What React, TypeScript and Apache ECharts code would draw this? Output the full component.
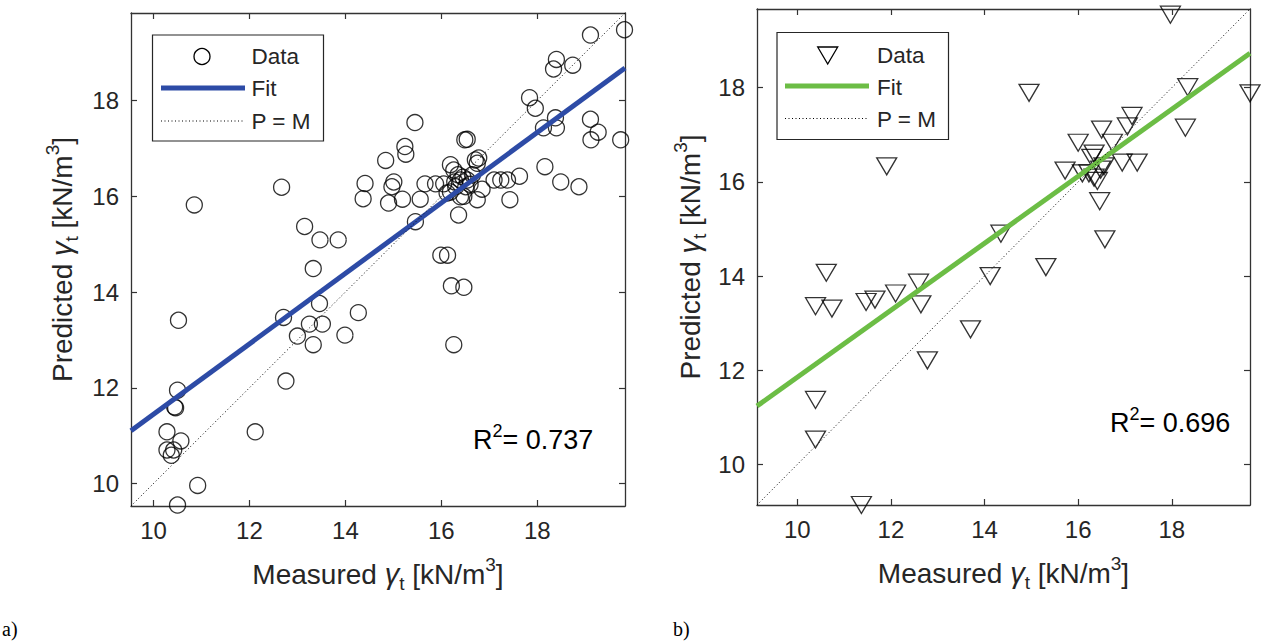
import React, { useEffect, useRef } from 'react';
import * as echarts from 'echarts';

// ---------- DATA ----------
const TICKS = [10, 12, 14, 16, 18];

// Panel a) : circles
const measuredA = [
  10.85, 12.67, 14.41, 14.37, 14.84, 13.15, 13.47, 13.85, 13.33,
  19.11, 19.82, 18.40, 18.34, 18.74, 17.84, 17.96, 18.38, 18.13, 18.40, 19.11, 19.27, 19.12, 19.74,
  15.45, 15.24, 15.26, 16.49, 16.54, 16.19, 16.78, 16.75,
  15.01, 14.97, 15.66, 15.88, 16.05, 17.10, 17.24, 17.38, 17.63, 18.16, 18.49, 18.87,
  14.90, 15.19, 15.56, 15.46, 16.36, 16.47, 16.75, 16.85, 17.43, 16.12, 15.99, 16.13,
  16.26, 16.40, 16.54, 16.71, 16.19, 16.40, 16.30, 16.51, 16.35, 16.45, 16.60, 16.28, 16.65,
  13.46, 12.71, 13.25, 13.52, 14.27, 13.00, 13.33, 13.99, 10.52, 12.76, 10.50, 10.44, 10.46,
  12.12, 10.28, 10.57, 10.28, 10.42, 10.37, 10.92, 10.50,
  16.21, 16.47, 16.26,
];
const predictedA = [
  15.82, 16.19, 16.27, 15.95, 16.75, 15.37, 15.09, 15.09, 14.49,
  19.37, 19.48, 18.86, 18.66, 18.74, 18.06, 17.84, 17.64, 17.43, 17.43, 17.61, 17.34, 17.18, 17.18,
  17.54, 17.04, 16.88, 17.18, 17.19, 16.66, 16.80, 16.69,
  16.30, 16.20, 16.26, 16.26, 16.26, 16.34, 16.34, 16.34, 16.42, 16.62, 16.30, 16.20,
  15.86, 15.94, 15.94, 15.47, 15.61, 16.00, 15.93, 16.15, 15.93, 16.07, 14.77, 14.77,
  16.55, 16.34, 16.34, 16.76, 16.09, 15.99, 16.20, 16.20, 16.45, 16.40, 16.25, 16.30, 16.45,
  13.76, 13.47, 13.33, 13.33, 13.57, 13.08, 12.90, 13.10, 13.41, 12.14, 11.95, 11.60, 11.58,
  11.08, 11.08, 10.89, 10.70, 10.70, 10.59, 9.96, 9.55,
  14.13, 14.10, 12.90,
];
const limitsA = [9.53, 19.83];
const fitA = [11.10, 18.68]; // fit values at limitsA
const r2A = '0.737';

// Panel b) : triangles
const measuredB = [
  17.97, 14.95, 18.34, 18.29, 17.15, 17.05, 16.50, 16.00, 16.73, 16.34, 16.29, 16.94, 17.26,
  15.72, 16.09, 16.55, 16.48, 16.34, 16.41, 16.23, 16.46, 16.57, 14.35,
  10.62, 10.39, 10.74, 11.47, 11.66, 12.10, 12.59, 12.64, 14.12, 15.31, 13.70, 12.78,
  10.39, 10.39, 11.37, 11.91, 19.67,
];
const predictedB = [
  19.55, 17.89, 18.01, 17.15, 17.40, 17.18, 17.11, 16.83, 16.83, 16.60, 16.51, 16.41, 16.41,
  16.24, 16.18, 16.33, 16.26, 16.09, 16.02, 16.18, 15.59, 14.78, 14.90,
  14.07, 13.36, 13.31, 13.45, 13.50, 13.63, 13.86, 13.40, 14.00, 14.19, 12.87, 12.21,
  11.37, 10.53, 9.14, 16.33, 17.88,
];
const limitsB = [9.14, 19.67];
const fitB = [11.24, 18.73];
const r2B = '0.696';

// ---------- STYLE ----------
const FONT = 'Liberation Sans, Arial, Helvetica, sans-serif';
const TXT = '#262626';
const AXIS = '#333333';
const BLUE = '#2d4ba6';
const GREEN = '#6cbd45';

const nameRich = {
  a: { fontSize: 28, fontFamily: FONT, color: TXT, lineHeight: 38 },
  g: { fontSize: 29, fontFamily: FONT, color: TXT, lineHeight: 38, fontStyle: 'italic' },
  s: { fontSize: 19, fontFamily: FONT, color: TXT, lineHeight: 19, verticalAlign: 'bottom' },
  p: { fontSize: 19, fontFamily: FONT, color: TXT, lineHeight: 19, verticalAlign: 'top' },
};

function pairs(xs: number[], ys: number[]) {
  return xs.map((x, i) => [x, ys[i]]);
}

function makeAxes(grid: number, lim: number[], xGap: number, yGap: number) {
  const common = {
    gridIndex: grid,
    type: 'value',
    min: lim[0],
    max: lim[1],
    splitLine: { show: false },
    axisLine: { show: true, onZero: false, lineStyle: { color: AXIS, width: 1.3 } },
    axisTick: { show: true, inside: true, length: 6, customValues: TICKS, lineStyle: { color: AXIS, width: 1.2 } },
  };
  const label = {
    show: true,
    customValues: TICKS,
    color: TXT,
    fontSize: 24,
    fontFamily: FONT,
    margin: 12,
  };
  const xs = [
    {
      ...common,
      position: 'bottom',
      axisLabel: label,
      name: '{a|Measured }{g|γ}{s|t}{a| [kN/m}{p|3}{a|]}',
      nameLocation: 'middle',
      nameGap: xGap,
      nameTextStyle: { rich: nameRich },
    },
    { ...common, position: 'top', axisLabel: { show: false } },
  ];
  const ys = [
    {
      ...common,
      position: 'left',
      axisLabel: label,
      name: '{a|Predicted }{g|γ}{s|t}{a| [kN/m}{p|3}{a|]}',
      nameLocation: 'middle',
      nameRotate: 90,
      nameGap: yGap,
      nameTextStyle: { rich: nameRich },
    },
    { ...common, position: 'right', axisLabel: { show: false } },
  ];
  return { xs, ys };
}

const txt = (x: number, y: number, text: string, size = 22.5) => ({
  type: 'text',
  x,
  y,
  z: 102,
  style: { text, fill: TXT, fontSize: size, fontFamily: FONT, align: 'left', verticalAlign: 'middle' },
});

const r2Text = (x: number, y: number, value: string) => ({
  type: 'text',
  x,
  y,
  z: 102,
  style: {
    text: `{a|R}{p|2}{a|= ${value}}`,
    align: 'left',
    verticalAlign: 'middle',
    rich: {
      a: { fontSize: 27, fontFamily: FONT, color: TXT, lineHeight: 36 },
      p: { fontSize: 18, fontFamily: FONT, color: TXT, lineHeight: 18, verticalAlign: 'top' },
    },
  },
});

export default function App() {
  const ref = useRef<HTMLDivElement>(null);

  useEffect(() => {
    if (!ref.current) return;
    const chart = echarts.init(ref.current, null, { renderer: 'svg' });

    const a = makeAxes(0, limitsA, 49, 50);
    const b = makeAxes(1, limitsB, 49, 48);

    const option: any = {
      animation: false,
      backgroundColor: '#ffffff',
      grid: [
        { left: 131, top: 13, width: 494, height: 493 },
        { left: 757, top: 9, width: 493, height: 496 },
      ],
      xAxis: [...a.xs, ...b.xs],
      yAxis: [...a.ys, ...b.ys],
      series: [
        {
          type: 'scatter',
          xAxisIndex: 0,
          yAxisIndex: 0,
          clip: false,
          symbol: 'circle',
          symbolSize: 16,
          itemStyle: { color: 'rgba(0,0,0,0)', borderColor: '#000', borderWidth: 1.3 },
          data: pairs(measuredA, predictedA),
        },
        {
          type: 'line',
          xAxisIndex: 0,
          yAxisIndex: 0,
          symbol: 'none',
          lineStyle: { color: BLUE, width: 5 },
          data: pairs(limitsA, fitA),
        },
        {
          type: 'line',
          xAxisIndex: 0,
          yAxisIndex: 0,
          symbol: 'none',
          lineStyle: { color: '#000', width: 1, type: [1, 2.5] },
          data: pairs(limitsA, limitsA),
        },
        {
          type: 'scatter',
          xAxisIndex: 2,
          yAxisIndex: 2,
          clip: false,
          symbol: 'triangle',
          symbolRotate: 180,
          symbolSize: [20, 17],
          itemStyle: { color: 'rgba(0,0,0,0)', borderColor: '#000', borderWidth: 1.3 },
          data: pairs(measuredB, predictedB),
        },
        {
          type: 'line',
          xAxisIndex: 2,
          yAxisIndex: 2,
          symbol: 'none',
          lineStyle: { color: GREEN, width: 5 },
          data: pairs(limitsB, fitB),
        },
        {
          type: 'line',
          xAxisIndex: 2,
          yAxisIndex: 2,
          symbol: 'none',
          lineStyle: { color: '#000', width: 1, type: [1, 2.5] },
          data: pairs(limitsB, limitsB),
        },
      ],
      graphic: [
        // legend a
        { type: 'rect', z: 100, shape: { x: 152.5, y: 35, width: 171, height: 106 }, style: { fill: '#fff', stroke: TXT, lineWidth: 1.2 } },
        { type: 'circle', z: 101, shape: { cx: 202, cy: 56.5, r: 8 }, style: { fill: 'none', stroke: '#000', lineWidth: 1.3 } },
        txt(251.5, 56.5, 'Data'),
        { type: 'line', z: 101, shape: { x1: 161, y1: 88, x2: 245, y2: 88 }, style: { stroke: BLUE, lineWidth: 5 } },
        txt(251.5, 88.5, 'Fit'),
        { type: 'line', z: 101, shape: { x1: 161, y1: 121, x2: 245, y2: 121 }, style: { stroke: '#000', lineWidth: 1, lineDash: [1, 2.5] } },
        txt(251.5, 121, 'P = M'),
        // legend b
        { type: 'rect', z: 100, shape: { x: 777, y: 32.5, width: 171.5, height: 107 }, style: { fill: '#fff', stroke: TXT, lineWidth: 1.2 } },
        { type: 'polygon', z: 101, shape: { points: [[817.7, 47], [837.7, 47], [827.7, 64]] }, style: { fill: 'none', stroke: '#000', lineWidth: 1.3 } },
        txt(877, 55.5, 'Data'),
        { type: 'line', z: 101, shape: { x1: 785, y1: 86, x2: 869, y2: 86 }, style: { stroke: GREEN, lineWidth: 5 } },
        txt(877, 87, 'Fit'),
        { type: 'line', z: 101, shape: { x1: 785, y1: 118.5, x2: 869, y2: 118.5 }, style: { stroke: '#000', lineWidth: 1, lineDash: [1, 2.5] } },
        txt(877, 119, 'P = M'),
        // R^2 annotations
        r2Text(473, 440, r2A),
        r2Text(1110, 423, r2B),
        // panel letters
        { type: 'text', x: 2, y: 629, style: { text: 'a)', fill: '#000', fontSize: 20, fontFamily: 'Liberation Serif, Times New Roman, serif', verticalAlign: 'middle' } },
        { type: 'text', x: 673, y: 629, style: { text: 'b)', fill: '#000', fontSize: 20, fontFamily: 'Liberation Serif, Times New Roman, serif', verticalAlign: 'middle' } },
      ],
    };

    chart.setOption(option);
    return () => chart.dispose();
  }, []);

  return (
    <div
      ref={ref}
      style={{ position: 'fixed', left: 0, top: 0, width: 1261, height: 641, background: '#fff' }}
    />
  );
}
